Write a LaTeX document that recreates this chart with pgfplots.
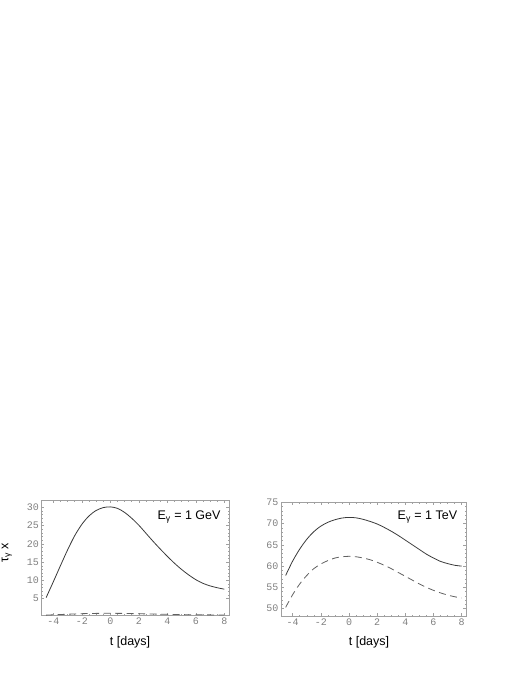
\documentclass[border=0pt]{standalone}
\usepackage{fontspec}
\setmainfont{Liberation Sans}
\setmonofont{Liberation Mono}
\usepackage{pgfplots}
\pgfplotsset{compat=1.18}
\definecolor{framegray}{HTML}{A0A0A0}
\definecolor{tickgray}{HTML}{808080}
\definecolor{curve}{HTML}{3A3A3A}
\pgfplotsset{
  myax/.style={
    scale only axis,
    anchor=south west,
    axis line style={framegray, line width=0.6pt},
    tick style={framegray, line width=0.5pt},
    tick align=inside,
    major tick length=3pt,
    minor tick length=1.6pt,
    xtick={-4,-2,0,2,4,6,8},
    minor x tick num=3,
    minor y tick num=4,
    /pgf/number format/assume math mode=true,
    ticklabel style={font=\fontsize{10}{12}\ttfamily, text=tickgray},
    xticklabel style={yshift=1pt},
    yticklabel style={xshift=1pt},
    label style={font=\fontsize{12.5}{14}\selectfont},
    xlabel={t [days]},
  }
}
\begin{document}
\begin{tikzpicture}[x=1pt,y=1pt]
\useasboundingbox (0,0) rectangle (522,689);
\begin{axis}[myax,
  at={(41.3pt,73.3pt)},
  width=188pt, height=115.4pt,
  xmin=-4.84, xmax=8.35, ymin=0.35, ymax=31.9,
  ytick={5,10,15,20,25,30},
  xlabel style={at={(rel axis cs:0.472,-0.234)}, anchor=center},
  ylabel={τ\textsubscript{γ} x},
  ylabel style={at={(rel axis cs:-0.183,0.545)}, anchor=center},
]
\addplot[curve, line width=0.8pt, smooth] coordinates {
(-4.5,5.3) (-4.0,9.6) (-3.5,14.0) (-3.0,18.3) (-2.5,22.2) (-2.0,25.3)
(-1.5,27.6) (-1.0,29.1) (-0.5,29.9) (0.0,30.1) (0.5,29.7) (1.0,28.6)
(1.5,27.0) (2.0,25.1) (2.5,22.9) (3.0,20.7) (3.5,18.6) (4.0,16.6)
(4.5,14.7) (5.0,13.0) (5.5,11.5) (6.0,10.2) (6.5,9.2) (7.0,8.5)
(7.5,8.0) (8.0,7.6)
};
\addplot[curve!80, line width=0.8pt, smooth, dash pattern=on 7pt off 4.5pt] coordinates {
(-4.5,0.50) (-4.0,0.60) (-3.0,0.75) (-2.0,0.90) (-1.0,0.98) (0.0,1.00)
(1.0,0.97) (2.0,0.88) (3.0,0.80) (4.0,0.72) (5.0,0.65) (6.0,0.60)
(7.0,0.57) (8.0,0.55)
};
\node[font=\fontsize{12.5}{14}\selectfont] at (rel axis cs:0.786,0.855) {E\textsubscript{γ} = 1 GeV};
\end{axis}
\begin{axis}[myax,
  at={(281pt,72.7pt)},
  width=185.3pt, height=114pt,
  xmin=-4.83, xmax=8.33, ymin=48.2, ymax=75,
  ytick={50,55,60,65,70,75},
  xlabel style={at={(rel axis cs:0.475,-0.232)}, anchor=center},
]
\addplot[curve, line width=0.8pt, smooth] coordinates {
(-4.5,57.8) (-4.0,61.2) (-3.5,64.0) (-3.0,66.3) (-2.5,68.1) (-2.0,69.4)
(-1.5,70.3) (-1.0,70.9) (-0.5,71.3) (0.0,71.45) (0.5,71.35) (1.0,71.0)
(1.5,70.5) (2.0,69.9) (2.5,69.1) (3.0,68.2) (3.5,67.2) (4.0,66.1)
(4.5,65.0) (5.0,63.9) (5.5,62.8) (6.0,61.9) (6.5,61.1) (7.0,60.6)
(7.5,60.2) (8.0,60.0)
};
\addplot[curve!80, line width=0.8pt, smooth, dash pattern=on 7pt off 4.5pt] coordinates {
(-4.5,50.3) (-4.0,53.3) (-3.5,55.8) (-3.0,57.8) (-2.5,59.4) (-2.0,60.5)
(-1.5,61.3) (-1.0,61.9) (-0.5,62.2) (0.0,62.3) (0.5,62.2) (1.0,61.9)
(1.5,61.5) (2.0,60.9) (2.5,60.2) (3.0,59.4) (3.5,58.5) (4.0,57.6)
(4.5,56.7) (5.0,55.8) (5.5,55.0) (6.0,54.3) (6.5,53.7) (7.0,53.2)
(7.5,52.8) (8.0,52.5)
};
\node[font=\fontsize{12.5}{14}\selectfont] at (rel axis cs:0.79,0.871) {E\textsubscript{γ} = 1 TeV};
\end{axis}
\end{tikzpicture}
\end{document}
